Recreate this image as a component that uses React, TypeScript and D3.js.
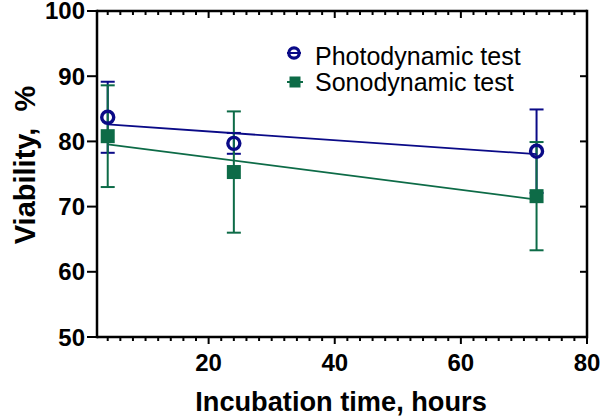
import React from "react";
import * as d3 from "d3";

const times = [4, 24, 72];
const photoMean = [83.7, 79.7, 78.5];
const photoErr = [5.45, 1.6, 6.4];
const sonoMean = [80.8, 75.3, 71.6];
const sonoErr = [7.8, 9.3, 8.3];
const xMajor = [20, 40, 60, 80];
const yMajor = [50, 60, 70, 80, 90, 100];
const seriesNames = ["Photodynamic test", "Sonodynamic test"];

const NAVY = "#0a0a87";
const GREEN = "#0d6b47";

const W = 600, H = 416;
const L = 97, R = 587, T = 11, B = 337;

function fit(xs: number[], ys: number[]) {
  const mx = d3.mean(xs)!, my = d3.mean(ys)!;
  let sxy = 0, sxx = 0;
  xs.forEach((x, i) => { sxy += (x - mx) * (ys[i] - my); sxx += (x - mx) ** 2; });
  const b = sxy / sxx;
  return (x: number) => my + b * (x - mx);
}

export default function App() {
  const x = d3.scaleLinear().domain([2.3, 80]).range([L, R]);
  const y = d3.scaleLinear().domain([50, 100]).range([B, T]);
  const minor = d3.range(4, 80, 2).filter((v) => v % 20 !== 0);
  const font = "'Liberation Sans', Arial, sans-serif";
  const line = d3.line<[number, number]>().x((d) => x(d[0])).y((d) => y(d[1]));
  const fp = fit(times, photoMean);
  const fs = fit(times, sonoMean);
  const x0 = d3.min(times)!, x1 = d3.max(times)!;

  const errBars = (means: number[], errs: number[], color: string) =>
    times.map((t, i) => {
      const cx = x(t);
      const yt = y(means[i] + errs[i]);
      const yb = y(means[i] - errs[i]);
      return (
        <g key={i} stroke={color} strokeWidth={2}>
          <line x1={cx} x2={cx} y1={yt} y2={yb} />
          <line x1={cx - 7} x2={cx + 7} y1={yt} y2={yt} />
          <line x1={cx - 7} x2={cx + 7} y1={yb} y2={yb} />
        </g>
      );
    });

  return (
    <svg width={W} height={H} style={{ position: "absolute", left: 0, top: 0 }}>
      <rect width={W} height={H} fill="#fff" />
      {errBars(photoMean, photoErr, NAVY)}
      {errBars(sonoMean, sonoErr, GREEN)}
      <path d={line([[x0, fp(x0)], [x1, fp(x1)]])!} stroke={NAVY} strokeWidth={1.8} fill="none" />
      <path d={line([[x0, fs(x0)], [x1, fs(x1)]])!} stroke={GREEN} strokeWidth={1.8} fill="none" />
      {times.map((t, i) => (
        <rect key={"s" + i} x={x(t) - 7} y={y(sonoMean[i]) - 7} width={14} height={14} fill={GREEN} />
      ))}
      {times.map((t, i) => (
        <circle key={"c" + i} cx={x(t)} cy={y(photoMean[i])} r={6} fill="none" stroke={NAVY} strokeWidth={3.4} />
      ))}
      <g stroke="#000" strokeWidth={2.5} fill="none">
        <line x1={L} x2={L} y1={T - 1.25} y2={B + 1.25} />
        <line x1={R} x2={R} y1={T - 1.25} y2={B + 1.25} />
        <line x1={L} x2={R} y1={T} y2={T} />
        <line x1={L} x2={R} y1={B} y2={B} />
      </g>
      <g stroke="#000" strokeWidth={2}>
        {yMajor.map((v) => (
          <line key={"yl" + v} x1={L - 10} x2={L} y1={y(v)} y2={y(v)} />
        ))}
        {yMajor.filter((v) => v > 50 && v < 100).map((v) => (
          <line key={"yr" + v} x1={R - 7} x2={R} y1={y(v)} y2={y(v)} />
        ))}
        {xMajor.map((v) => (
          <line key={"xb" + v} x1={x(v)} x2={x(v)} y1={B} y2={B + 7} />
        ))}
        {minor.map((v) => (
          <line key={"xm" + v} x1={x(v)} x2={x(v)} y1={B} y2={B + 4} />
        ))}
        {xMajor.filter((v) => v < 80).map((v) => (
          <line key={"xt" + v} x1={x(v)} x2={x(v)} y1={T} y2={T + 7} />
        ))}
        {minor.map((v) => (
          <line key={"xtm" + v} x1={x(v)} x2={x(v)} y1={T} y2={T + 4} />
        ))}
      </g>
      <g fontFamily={font} fontWeight="bold" fontSize={24} fill="#000">
        {yMajor.map((v) => (
          <text key={"ylab" + v} x={L - 12} y={y(v)} dy={v === 100 ? "0.34em" : "0.36em"} textAnchor="end">{v}</text>
        ))}
        {xMajor.map((v) => (
          <text key={"xlab" + v} x={x(v)} y={371} textAnchor="middle">{v}</text>
        ))}
      </g>
      <text x={341} y={411} textAnchor="middle" fontFamily={font} fontWeight="bold" fontSize={27.2}>
        Incubation time, hours
      </text>
      <text
        transform={`translate(35,165) rotate(-90)`}
        textAnchor="middle"
        fontFamily={font}
        fontWeight="bold"
        fontSize={29}
        style={{ whiteSpace: "pre" }}
      >
        {"Viability,  %"}
      </text>
      <g fontFamily={font} fontSize={25} fill="#000">
        <line x1={287} x2={301} y1={53} y2={53} stroke={NAVY} strokeWidth={2} />
        <circle cx={294} cy={53} r={5.2} fill="none" stroke={NAVY} strokeWidth={3.2} />
        <text x={315} y={65}>{seriesNames[0]}</text>
        <line x1={287} x2={303} y1={82} y2={82} stroke={GREEN} strokeWidth={2} />
        <rect x={289.5} y={76.5} width={11} height={11} fill={GREEN} />
        <text x={315} y={90.5}>{seriesNames[1]}</text>
      </g>
    </svg>
  );
}
